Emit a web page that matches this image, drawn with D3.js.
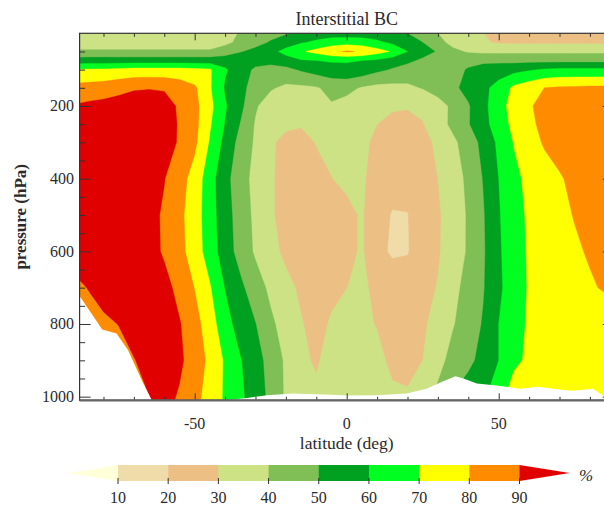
<!DOCTYPE html>
<html>
<head>
<meta charset="utf-8">
<script src="https://cdn.jsdelivr.net/npm/d3@7"></script>
<style>
  html, body { margin: 0; padding: 0; background: #fff; }
  svg text { font-family: "Liberation Serif", "Times New Roman", serif; fill: #2a2a2a; }
</style>
</head>
<body>
<svg id="chart" width="604" height="506"></svg>
<script>
// grid: latitude columns, pressure rows (hPa)
const lats = [-90,-85,-80,-75,-70,-65,-60,-55,-50,-45,-40,-35,-30,-25,-20,-15,-10,-5,0,5,10,15,20,25,30,35,40,45,50,55,60,65,70,75,80,85,90];
const levels = [0,25,50,75,100,150,200,250,300,400,500,600,700,800,900,1010];

// interstitial BC fraction (%), one row per level
const p0    = [35,35,35,35,35,35,35,35,35,35,35,41,44,46,49,52,54,55,55,55,54,52,50,45,40,36,33,30,28,27,27,27,27,27,27,27,27];
const p25   = [36,36,36,36,36,36,36,36,36,36,38,42,46,51,55,59,62,65,66,65,62,58,54,50,43,37,34,31,29,28.5,28.5,28.5,28.5,28.5,28.5,28.5,28.5];
const p50   = [41,41,41,41,41,41,41,41,41,41,44,49,53,57,63,69,73,78,81,79,74,69,60,54,49,42,39,38,38,38,38,38,38,38,38,38,38];
const p75   = [54,55,55,55,55,55,55,55,55,55,56,57,54,54,56,59,60,61,61,60,58,55,52,48,46,46,46,47,47,47,47,47,47,47,47,47,47];
const p100  = [70,71,71,72,73,73,73,73,72,71,61,55,48,45,47,51,54,56,57,56,52,49,46,44,44,46,51,55,56,57,59,61,62,62,62,62,62];
const p150  = [83,84,85,87,89,89.5,89,86,81.5,71,59,52,47,41,38,38,39,43,43,39,37,37,38,40.5,44,48,53,58,63,72,76,80,81,81.5,82,82,82];
const p200  = [90.5,92,93,94,95,95,94,88.6,83,72.6,61,52.5,41,35,33,33,35,39,36,33,32,31,30.5,32,36,42,49,57,67,73,79,83,85,86,86,86,86];
const p250  = [93,94,95,95,96,96,95,89,83,71,59.5,49.5,39,34,32,31,32,35,34,32,30,28,28,29.5,35.7,42.3,49.2,56.8,65,72.5,78.3,82,84,85,86,86,86];
const p300  = [95,96,96,97,97,97,96,88.5,82,69,57,46.5,38.5,31.5,27,26,30.5,32.5,33.5,31.5,28.5,26,25,27.5,31.5,38,44.5,53,62,70.5,76,81,84,86,86,86,86];
const p400  = [95,96,96,97,97,95,90.3,84,76,64,53,44,37,31,27,25,26,29.8,32,31,27,23,22,24.5,30,35.5,42,50.5,60,67.5,72.5,76,79,82.5,85,86,86];
const p500  = [95,96,96,96,95,93,88.7,82.3,74.6,64.3,54,45.4,37.7,31.4,26,23,22,24,27.5,31,23,19.5,19.8,23,28.8,34.6,41,49.2,59.2,66.4,71.5,74.5,77.5,80.5,83,84,84];
const p600  = [96,97,97,97,96,94,88.6,82.9,75.2,65,54.9,46.1,38.6,32.8,28,25,24,25,27.5,31,23,18.5,19.5,24,29,35,41,48.9,58.6,66,71,73.6,76.1,78.6,81,82,82];
const p700  = [86,90.5,95,96,96,96,93.5,86.8,79.7,70.8,59.6,52.1,44.5,37.8,32.5,28.5,27,28,29.9,31.5,28,26,24,27,30.5,37.2,43.3,49.4,58,65.6,70.8,72.8,74.8,76.9,78.9,81,82];
const p800  = [80,84,87.5,90.3,95,97,96,90.7,83.6,74.7,63.7,55.9,50.2,41.8,35.9,30.6,27,31,33,32,29.5,26,26,28.5,33.5,39.3,45,50.8,60,66.4,71.2,72.5,73.5,74,74,74,74];
const p900  = [78,80,82,85,89.5,94,95.5,92,84.7,78,68.6,60.6,53.9,46.1,38.4,32.5,28.5,35,36,35,32.5,28,26,30,36.5,43.6,47.7,53,60,67.5,72,73,74,74,74,74,74];
const p1010 = [76,78,80,83,86,89.5,93,88.6,82.7,75.9,68.6,62,55.1,47.5,38.5,36,33,33.5,33,33,33,32,32,38,43,51.5,55.5,59,66,77,76,76,76,76,76,76,76];

// zonal mean surface pressure (white area below it)
const surfLats = [-90,-87.86,-80.4,-75.7,-71.9,-69.7,-67.4,-64.1,-50,-40,-33,-26.3,-17.7,-5,0,10,19.7,26.3,31,35.8,38.4,42.8,49.3,57,63,68,74,81,84,86,90];
const surfPres = [700,723,815,826,872,913,955,1010,1010,1010,1004,996,991,995,997,996,991,978,960,944,950,964,969,978,973,978,984,978,995,1010,1010];

const contourLevels = [0,10,20,30,40,50,60,70,80,90];
const bandColors = ["#FFFFD9","#F0DCA8","#ECC084","#CDE285","#7FBF56","#00A020","#00FF20","#FFFF00","#FF8C00","#E00000"];
const latMajor = [-50,0,50];
const latMinor = [-80,-70,-60,-40,-30,-20,-10,10,20,30,40,60,70,80];
const presMajor = [200,400,600,800,1000];
const presMinor = [50,100,150,250,300,350,450,500,550,650,700,750,850,900,950];

const svg = d3.select('#chart');
const x = d3.scaleLinear().domain([-87.86, 87.86]).range([79.6, 613.8]);
const y = d3.scaleLinear().domain([0, 1010]).range([33.3, 400.3]);
const [x0, x1] = x.range(), [y0, y1] = y.range();

svg.append('clipPath').attr('id', 'plot-clip')
  .append('rect').attr('x', x0).attr('y', y0).attr('width', x1 - x0).attr('height', y1 - y0);
const plot = svg.append('g').attr('clip-path', 'url(#plot-clip)');

// filled contours
const rows = [p0,p25,p50,p75,p100,p150,p200,p250,p300,p400,p500,p600,p700,p800,p900,p1010];
const n = lats.length, m = levels.length;
const latAt = d3.scaleLinear().domain(d3.range(n)).range(lats).clamp(true);
const presAt = d3.scaleLinear().domain(d3.range(m)).range(levels).clamp(true);
const toScreen = d3.geoTransform({
  point(cx, cy) { this.stream.point(x(latAt(cx - 0.5)), y(presAt(cy - 0.5))); }
});
const contours = d3.contours().size([n, m]).thresholds(contourLevels)(rows.flat());

plot.selectAll('path.band')
  .data(contours)
  .enter()
  .append('path')
  .attr('class', 'band')
  .attr('d', d3.geoPath(toScreen))
  .style('fill', (d, i) => bandColors[i])
  .style('stroke', (d, i) => bandColors[i])
  .style('stroke-width', '0.4px');

// below-ground mask
plot.append('path')
  .datum(surfLats)
  .attr('d', d3.area()
    .x(d => x(d))
    .y0((d, i) => y(surfPres[i]))
    .y1(y(1010) + 5))
  .style('fill', '#fff');

// axes, ticks inward
const axisColor = '#333';
function ticks(gen, vals, size, tx, ty) {
  const g = svg.append('g').attr('transform', `translate(${tx},${ty})`)
    .call(gen.tickValues(vals).tickSize(-size).tickFormat(''));
  g.select('.domain').remove();
  g.selectAll('line').style('stroke', axisColor);
  return g;
}
ticks(d3.axisBottom(x), latMinor, 3.5, 0, y1);
ticks(d3.axisBottom(x), latMajor, 7, 0, y1);
ticks(d3.axisTop(x), latMinor, 3.5, 0, y0);
ticks(d3.axisTop(x), latMajor, 7, 0, y0);
ticks(d3.axisLeft(y), presMinor, 5.5, x0, 0);
ticks(d3.axisLeft(y), presMajor, 11, x0, 0);
ticks(d3.axisRight(y), presMinor, 5.5, x1, 0);
ticks(d3.axisRight(y), presMajor, 11, x1, 0);

svg.append('rect')
  .attr('x', x0).attr('y', y0).attr('width', x1 - x0).attr('height', y1 - y0)
  .style('fill', 'none').style('stroke', axisColor).style('stroke-width', '1.2px');
svg.append('line')
  .attr('x1', x0).attr('x2', x1).attr('y1', y1).attr('y2', y1)
  .style('stroke', '#666').style('stroke-width', '2.2px');

// tick labels
svg.selectAll('text.xlab').data(latMajor).enter().append('text')
  .attr('class', 'xlab')
  .attr('x', d => x(d)).attr('y', 428.5)
  .attr('text-anchor', 'middle').attr('font-size', '16px')
  .text(d => d < 0 ? '-' + Math.abs(d) : d);
svg.selectAll('text.ylab').data(presMajor).enter().append('text')
  .attr('class', 'ylab')
  .attr('x', 74).attr('y', d => y(d)).attr('dy', '0.33em')
  .attr('text-anchor', 'end').attr('font-size', '16px')
  .text(d => d);

// titles
svg.append('text').attr('x', x(0)).attr('y', 25)
  .attr('text-anchor', 'middle').attr('font-size', '18px').text('Interstitial BC');
svg.append('text').attr('x', x(0)).attr('y', 449)
  .attr('text-anchor', 'middle').attr('font-size', '17.5px').text('latitude (deg)');
svg.append('text').attr('transform', `translate(26,${(y0 + y1) / 2}) rotate(-90)`)
  .attr('text-anchor', 'middle').attr('font-size', '17px').attr('font-weight', 'bold')
  .text('pressure (hPa)');

// colour bar
const cb = d3.scaleLinear().domain([10, 90]).range([118, 519.5]);
const cbTop = 465, cbBot = 481, cbMid = (cbTop + cbBot) / 2;
const cbBands = contourLevels.slice(1, -1);
svg.selectAll('rect.cb').data(cbBands).enter().append('rect')
  .attr('class', 'cb')
  .attr('x', d => cb(d)).attr('y', cbTop)
  .attr('width', d => cb(d + 10) - cb(d) + 0.5).attr('height', cbBot - cbTop)
  .style('fill', d => bandColors[contourLevels.indexOf(d)]);
svg.append('path')
  .attr('d', `M${cb(10)},${cbTop}L${cb(0)},${cbMid}L${cb(10)},${cbBot}Z`)
  .style('fill', bandColors[0]);
svg.append('path')
  .attr('d', `M${cb(90)},${cbTop}L${cb(100)},${cbMid}L${cb(90)},${cbBot}Z`)
  .style('fill', bandColors[bandColors.length - 1]);
const cbTicks = contourLevels.slice(1);
svg.selectAll('line.cbt').data(cbTicks).enter().append('line')
  .attr('class', 'cbt')
  .attr('x1', d => cb(d)).attr('x2', d => cb(d))
  .attr('y1', cbBot - 3).attr('y2', cbBot + 3)
  .style('stroke', '#333').style('stroke-width', '1px');
svg.selectAll('text.cbl').data(cbTicks).enter().append('text')
  .attr('class', 'cbl')
  .attr('x', d => cb(d)).attr('y', 503)
  .attr('text-anchor', 'middle').attr('font-size', '16px')
  .text(d => d);
svg.append('text').attr('x', 579).attr('y', 481)
  .attr('font-size', '17px').attr('font-style', 'italic').text('%');
</script>
</body>
</html>
